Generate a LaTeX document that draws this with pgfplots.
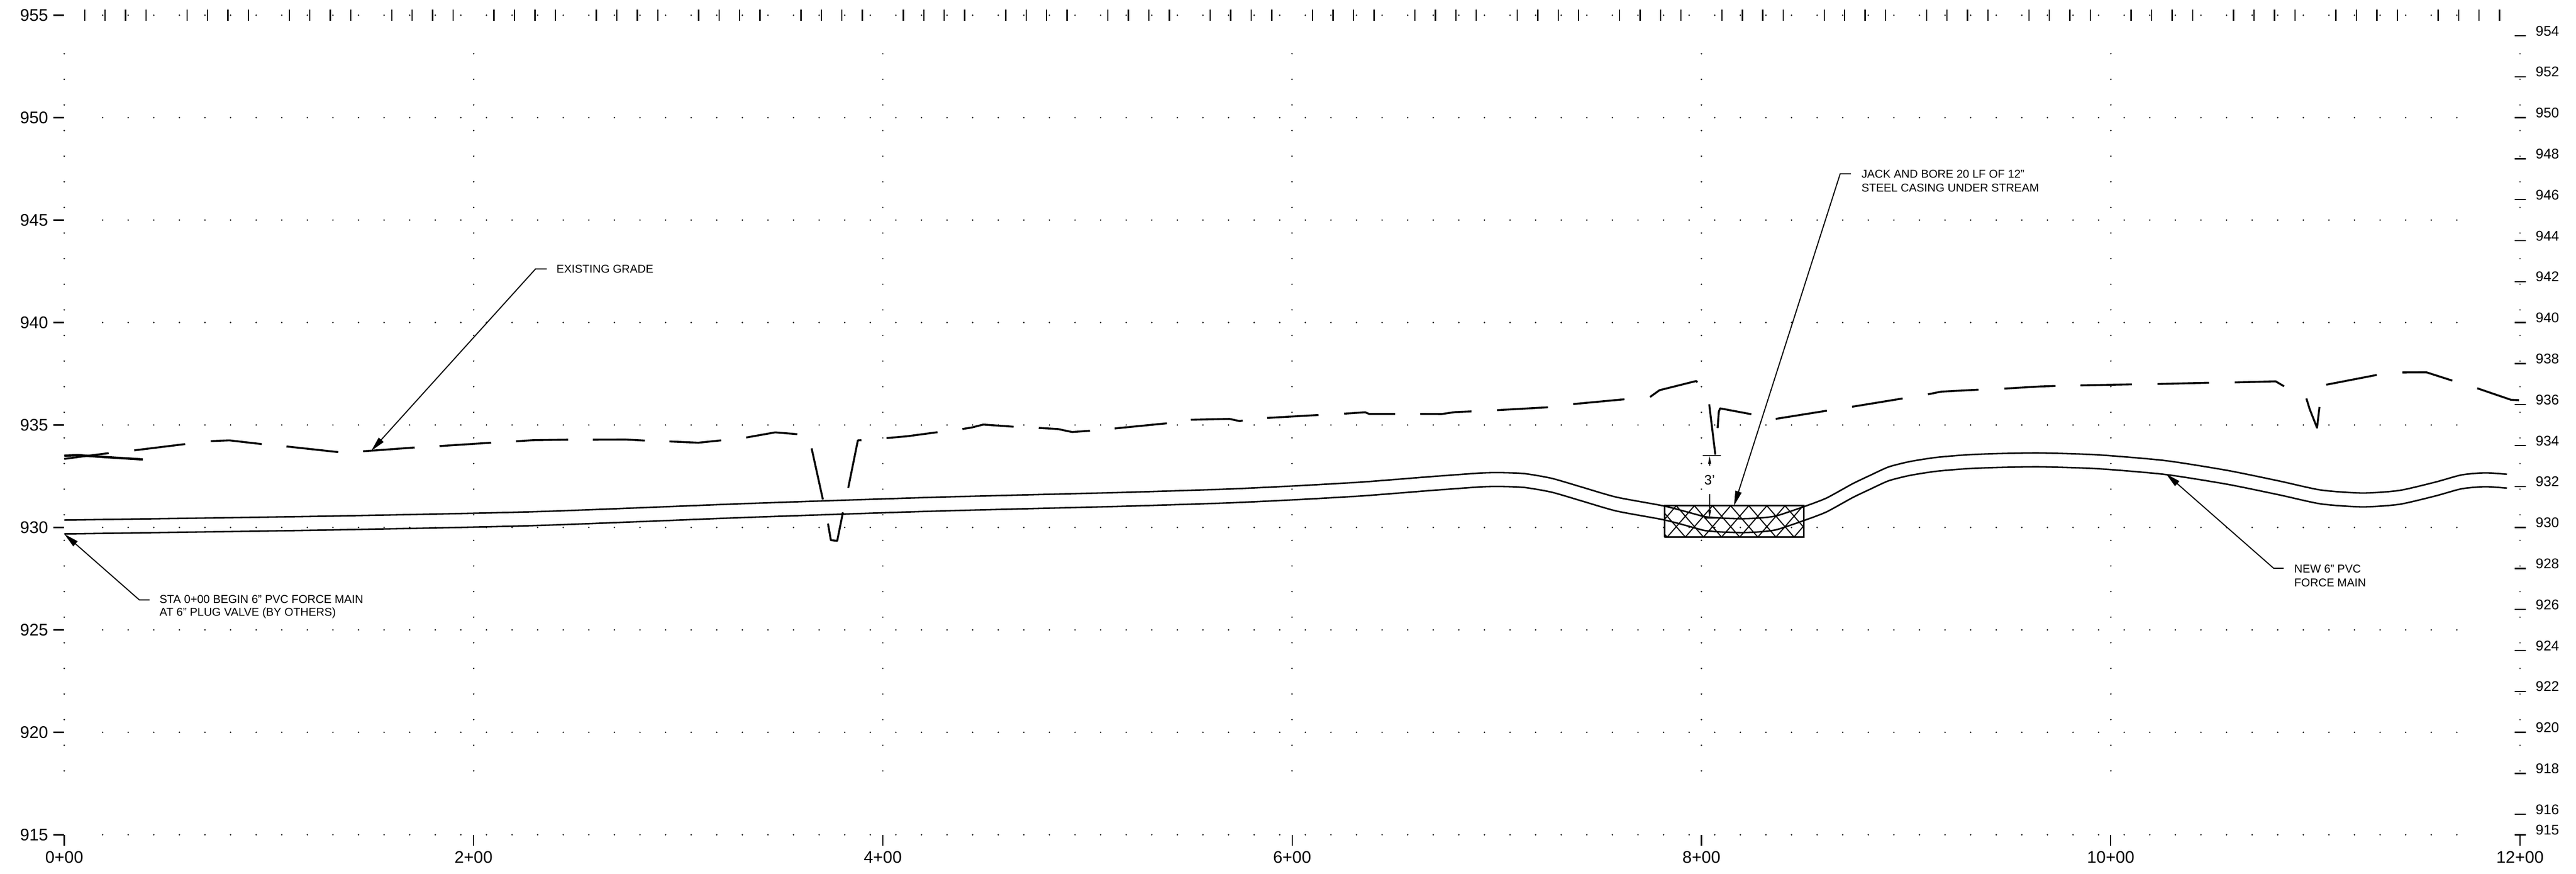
\documentclass[border=0pt]{standalone}
\usepackage{fontspec}
\setmainfont{Liberation Sans}
\usepackage{pgfplots}
\usepackage{pgfplotstable}
\pgfplotsset{compat=1.18}
\usetikzlibrary{arrows.meta}

% 1 px of the reference = 0.25pt here; 3.84 px per ft across, 38.4 px per ft up
\pgfplotsset{
  base/.style={
    scale only axis, width=1151.625pt, height=384pt,
    xmin=0, xmax=1200, ymin=915, ymax=955,
    clip=false, axis line style={draw=none},
    unbounded coords=jump,
    /pgf/number format/assume math mode=true,
    /pgf/number format/1000 sep={},
    tick style={black, line width=0.6pt},
  },
  leader/.style={line width=0.5pt, {Stealth[length=7pt,width=3pt,inset=0pt]}-},
  pipe/.style={line width=0.7pt, smooth, tension=0.4},
  grade/.style={line width=0.9pt, line join=round},
}
\newcommand{\note}{\fontsize{5.35}{6.4}\selectfont}

\pgfplotstableread{
x y
18.75 955
1181.25 955
nan nan
18.75 950
1181.25 950
nan nan
18.75 945
1181.25 945
nan nan
18.75 940
1181.25 940
nan nan
18.75 935
1181.25 935
nan nan
18.75 930
1181.25 930
nan nan
18.75 925
1181.25 925
nan nan
18.75 920
1181.25 920
nan nan
18.75 915
1181.25 915
nan nan
0 953.125
0 916.875
nan nan
200 953.125
200 916.875
nan nan
400 953.125
400 916.875
nan nan
600 953.125
600 916.875
nan nan
800 953.125
800 916.875
nan nan
1000 953.125
1000 916.875
nan nan
1200 953.125
1200 916.875
}\dotgrid

\pgfplotstableread{
x y
0 933.351
11.8 933.507
21.7 933.63
nan nan
34.2 933.768
59.1 934.073
nan nan
71.6 934.218
80.7 934.255
96.5 934.073
nan nan
108.6 933.958
133.9 933.682
nan nan
146 933.724
151.3 933.76
171.2 933.906
nan nan
183.4 933.976
208.6 934.14
nan nan
220.8 934.211
229 934.263
246.2 934.289
nan nan
258.3 934.289
274.2 934.296
283.7 934.244
nan nan
295.7 934.203
309.8 934.14
321 934.255
nan nan
333.2 934.393
347.4 934.645
358.2 934.557
nan nan
365.2 933.864
370.7 931.372
nan nan
373.2 930.192
374.6 929.385
377.7 929.349
380.5 930.739
nan nan
383.1 931.937
387.8 934.255
389.5 934.263
nan nan
401.8 934.367
411.7 934.453
426.7 934.653
nan nan
438.9 934.809
443.3 934.88
449.1 935.026
463.9 934.921
nan nan
476.2 934.862
485.5 934.809
492.5 934.661
501.2 934.724
nan nan
513.3 934.836
538.8 935.088
nan nan
550.5 935.26
569.3 935.304
574.5 935.192
575.8 935.226
nan nan
587.8 935.349
612.9 935.494
nan nan
625.4 935.557
635.7 935.625
637.6 935.546
650.3 935.546
nan nan
662.6 935.546
673 935.539
679.7 935.635
687.6 935.669
nan nan
700.1 935.729
725 935.869
nan nan
737.3 936.026
762.4 936.26
nan nan
774.9 936.372
779.5 936.703
797.5 937.153
797.9 937.083
nan nan
803.8 936.015
806.8 933.552
nan nan
807.9 934.854
808.5 935.651
809.1 935.817
824.4 935.531
nan nan
836.3 935.304
861.3 935.703
nan nan
873.6 935.895
898.3 936.299
nan nan
910.7 936.502
917.1 936.632
935.4 936.729
nan nan
948 936.781
965.4 936.885
973 936.911
nan nan
985.2 936.937
1010.4 936.989
nan nan
1022.9 937.005
1048 937.067
nan nan
1060.6 937.083
1080.6 937.135
1084.7 936.893
nan nan
1095.6 936.302
1097.2 935.781
1100.8 934.869
1102 935.885
nan nan
1105.3 936.971
1130 937.448
nan nan
1142.5 937.57
1154.2 937.578
1166.9 937.171
nan nan
1179.1 936.796
1195.6 936.234
1199.5 936.216
}\existing

\pgfplotstableread{
x top bottom
0 930.365 929.688
124.9 930.55 929.873
229 930.77 930.093
333.2 931.17 930.493
426.2 931.48 930.803
515.5 931.71 931.033
567.6 931.875 931.198
600.8 932.03 931.353
634 932.22 931.543
667.2 932.48 931.803
692.1 932.66 931.983
702.1 932.68 932.003
713.7 932.63 931.953
726.9 932.4 931.723
742 931.96 931.283
758.6 931.48 930.803
781.8 931.05 930.373
796.7 930.66 929.983
801.7 930.53 929.853
809.7 930.46 929.783
819.7 930.43 929.753
827.6 930.46 929.783
836.6 930.57 929.893
850.1 931.02 930.343
861.1 931.44 930.763
873.8 932.135 931.458
882.7 932.56 931.883
891.5 932.96 932.283
901.8 933.22 932.543
914.5 933.42 932.743
929.8 933.55 932.873
945 933.61 932.933
965.4 933.64 932.963
993.4 933.55 932.873
1026.4 933.27 932.593
1056.9 932.79 932.113
1082.4 932.27 931.593
1102.7 931.83 931.153
1123 931.685 931.008
1141 931.81 931.133
1158.7 932.22 931.543
1171.5 932.57 931.893
1183 932.67 931.993
1193.6 932.6 931.923
}\pipeline

% crosshatch of the casing
\pgfplotstableread{
x y
781.9 930.39
787.68 931.06
nan nan
783.25 929.53
796.53 931.06
nan nan
792.10 929.53
805.38 931.06
nan nan
800.96 929.53
814.24 931.06
nan nan
809.81 929.53
823.09 931.06
nan nan
818.67 929.53
831.95 931.06
nan nan
827.52 929.53
840.80 931.06
nan nan
836.37 929.53
849.65 931.06
nan nan
845.23 929.53
850 930.08
nan nan
781.9 929.69
783.31 929.53
nan nan
781.9 930.71
792.17 929.53
nan nan
787.74 931.06
801.02 929.53
nan nan
796.59 931.06
809.87 929.53
nan nan
805.45 931.06
818.73 929.53
nan nan
814.30 931.06
827.58 929.53
nan nan
823.16 931.06
836.44 929.53
nan nan
832.01 931.06
845.29 929.53
nan nan
840.86 931.06
850 930.01
}\hatch

\begin{document}
\begin{tikzpicture}
\path[use as bounding box] (-30.125pt,-18.325pt) rectangle (1177.875pt,391.175pt);

% top row of ticks and the right elevation scale
\begin{axis}[base,
    xtick distance=50, minor x tick num=4, xtick pos=top, xticklabels={},
    every major x tick/.append style={draw=none},
    minor tick length=5.25pt, major tick length=5.25pt, tick align=center,
    ytick={915,916,918,920,922,924,926,928,930,932,934,936,938,940,942,944,946,948,950,952,954},
    ytick pos=right,
    yticklabel style={font=\fontsize{6.6}{8}\selectfont, inner sep=0pt, anchor=west, yshift=2.25pt},
    yticklabel shift=4.5pt,
  ]
\end{axis}

\begin{axis}[base,
    xtick={0,200,400,600,800,1000,1200},
    xticklabels={0+00,2+00,4+00,6+00,8+00,10+00,12+00},
    xtick pos=bottom, ytick pos=left,
    ytick={915,920,925,930,935,940,945,950,955},
    tick align=outside, major tick length=5.1pt,
    xticklabel style={font=\fontsize{7.9}{9}\selectfont, inner sep=0pt},
    yticklabel style={font=\fontsize{7.9}{9}\selectfont, inner sep=0pt},
    xticklabel shift=2.4pt, yticklabel shift=2.25pt,
  ]

\addplot[line width=0.7pt, line cap=round, dash pattern=on 0.01pt off 11.99pt] table {\dotgrid};

\addplot[grade] table {\existing};
\addplot[grade, line width=1.1pt] coordinates {(0,933.507) (6.8,933.533) (20.1,933.437) (38.4,933.325)};

\addplot[pipe] table[x=x, y=top] {\pipeline};
\addplot[pipe] table[x=x, y=bottom] {\pipeline};

% casing
\addplot[line width=0.75pt] coordinates {(781.9,929.53) (850,929.53) (850,931.06) (781.9,931.06) (781.9,929.53)};
\addplot[line width=0.5pt] table {\hatch};

% 3 ft cover dimension
\addplot[line width=0.45pt] coordinates {(800.6,933.507) (809.4,933.507)};
\addplot[line width=0.45pt] coordinates {(801.4,930.46) (809.5,930.46)};
\addplot[line width=0.45pt, {Stealth[length=3.75pt,width=1.3pt,inset=0pt]}-] coordinates {(804,933.507) (804,933.02)};
\addplot[line width=0.45pt, -{Stealth[length=3.75pt,width=1.3pt,inset=0pt]}] coordinates {(804,931.64) (804,930.468)};
\node[font=\fontsize{6.4}{8}\selectfont, inner sep=0pt] at (axis cs:804,932.307) {3'};

% callouts
\addplot[leader] coordinates {(150,933.742) (230.3,942.622) (235.8,942.622)};
\node[anchor=west, inner sep=0pt, font=\note] at (axis cs:240.3,942.622) {EXISTING GRADE};

\addplot[leader] coordinates {(0,929.687) (36.7,926.468) (41.7,926.468)};
\node[anchor=west, inner sep=0pt, font=\note] at (axis cs:46.4,926.5) {STA 0+00 BEGIN 6" PVC FORCE MAIN};
\node[anchor=west, inner sep=0pt, font=\note] at (axis cs:46.4,925.83) {AT 6" PLUG VALVE (BY OTHERS)};

\addplot[leader] coordinates {(815.9,931.059) (867.8,947.265) (873,947.265)};
\node[anchor=west, inner sep=0pt, font=\note] at (axis cs:878,947.26) {JACK AND BORE 20 LF OF 12"};
\node[anchor=west, inner sep=0pt, font=\note] at (axis cs:878,946.59) {STEEL CASING UNDER STREAM};

\addplot[leader] coordinates {(1027,932.622) (1079.6,928.013) (1084.5,928.013)};
\node[anchor=west, inner sep=0pt, font=\note] at (axis cs:1089.5,927.99) {NEW 6" PVC};
\node[anchor=west, inner sep=0pt, font=\note] at (axis cs:1089.5,927.31) {FORCE MAIN};

\end{axis}
\end{tikzpicture}
\end{document}
